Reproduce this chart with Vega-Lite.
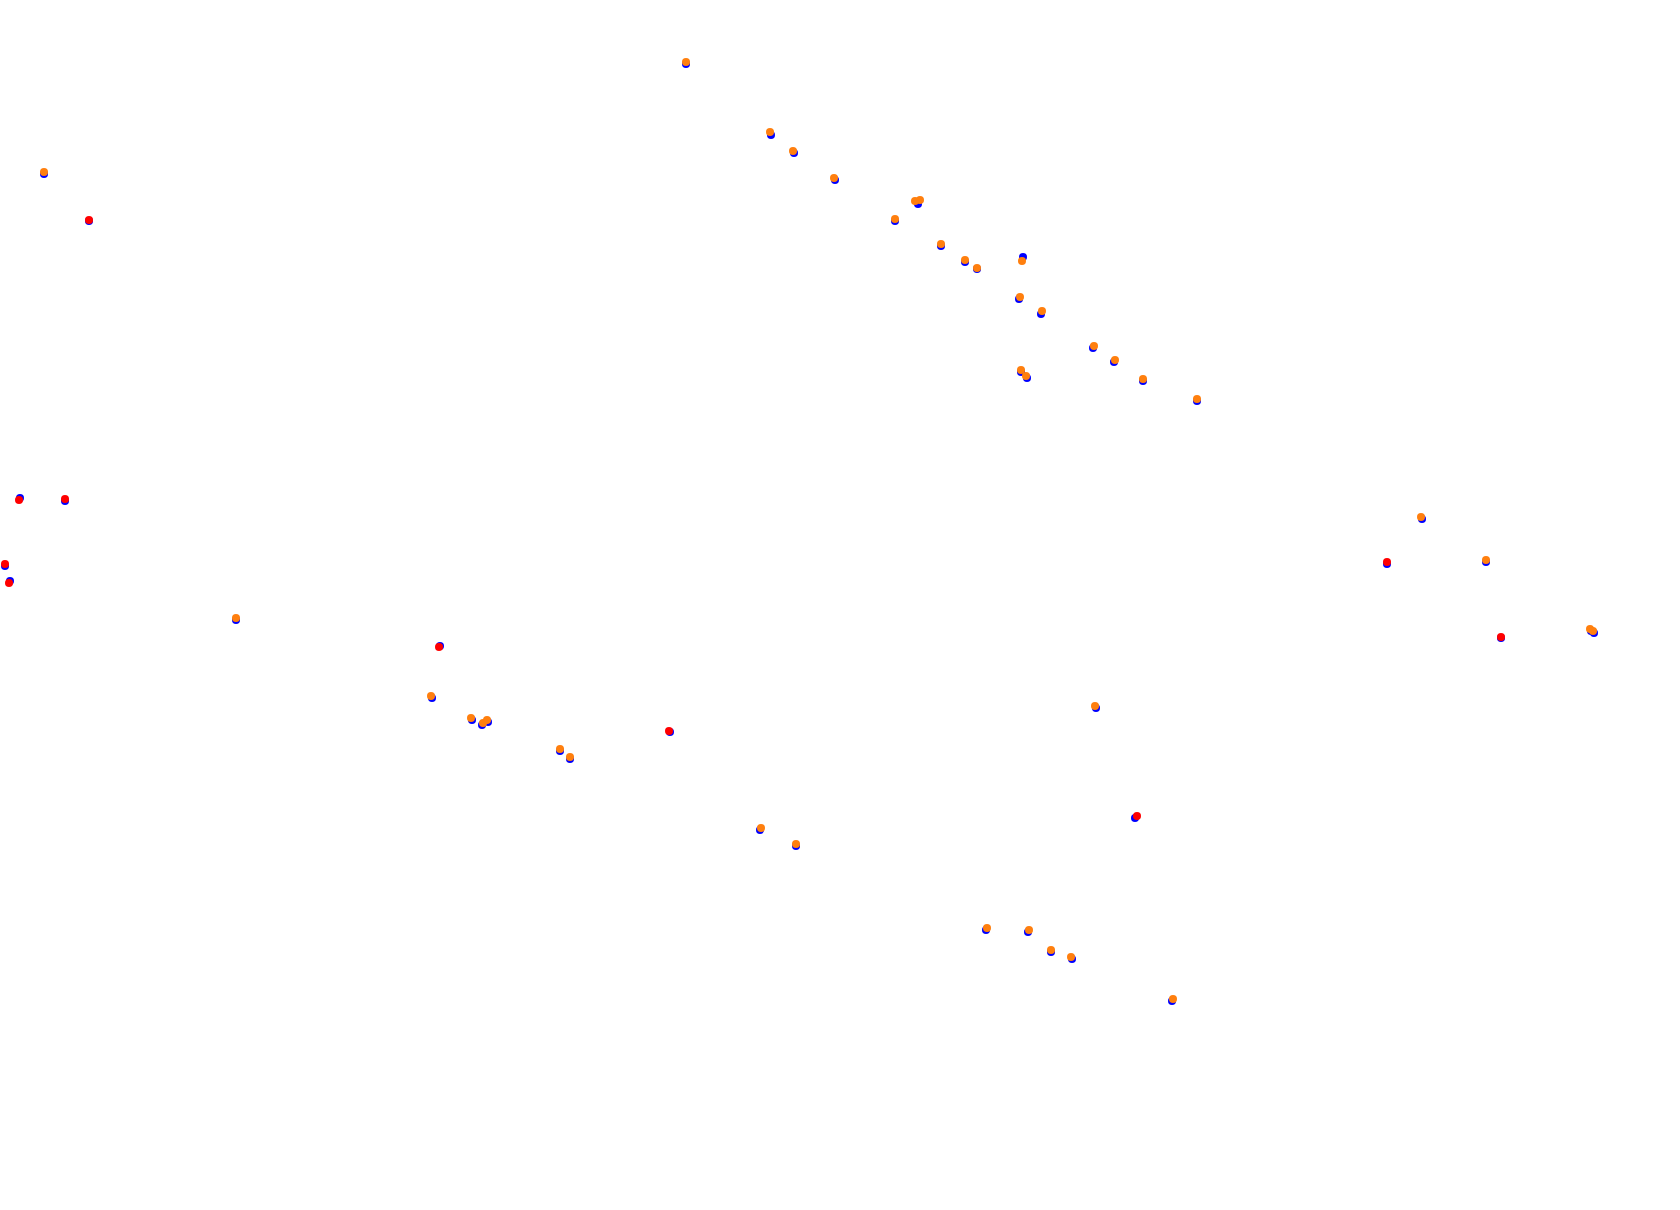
{
  "$schema": "https://vega.github.io/schema/vega-lite/v6.json",
  "autosize": {"type": "fit", "contains": "padding"},
  "width": 1680,
  "height": 1210,
  "padding": 0,
  "background": "white",
  "config": {"view": {"stroke": null}},
  "data": {"values": [
    {"x": 686, "y": 64, "s": "blue"},
    {"x": 771, "y": 135, "s": "blue"},
    {"x": 794, "y": 153, "s": "blue"},
    {"x": 835, "y": 180, "s": "blue"},
    {"x": 918, "y": 204, "s": "blue"},
    {"x": 895, "y": 221, "s": "blue"},
    {"x": 941, "y": 246, "s": "blue"},
    {"x": 965, "y": 262, "s": "blue"},
    {"x": 977, "y": 269, "s": "blue"},
    {"x": 1023, "y": 257, "s": "blue"},
    {"x": 1019, "y": 299, "s": "blue"},
    {"x": 1041, "y": 314, "s": "blue"},
    {"x": 1093, "y": 348, "s": "blue"},
    {"x": 1114, "y": 362, "s": "blue"},
    {"x": 1143, "y": 381, "s": "blue"},
    {"x": 1197, "y": 401, "s": "blue"},
    {"x": 1021, "y": 372, "s": "blue"},
    {"x": 1027, "y": 378, "s": "blue"},
    {"x": 44, "y": 174, "s": "blue"},
    {"x": 236, "y": 620, "s": "blue"},
    {"x": 432, "y": 698, "s": "blue"},
    {"x": 472, "y": 720, "s": "blue"},
    {"x": 482, "y": 725, "s": "blue"},
    {"x": 488, "y": 722, "s": "blue"},
    {"x": 560, "y": 751, "s": "blue"},
    {"x": 570, "y": 759, "s": "blue"},
    {"x": 760, "y": 830, "s": "blue"},
    {"x": 796, "y": 846, "s": "blue"},
    {"x": 986, "y": 930, "s": "blue"},
    {"x": 1028, "y": 932, "s": "blue"},
    {"x": 1051, "y": 952, "s": "blue"},
    {"x": 1072, "y": 959, "s": "blue"},
    {"x": 1172, "y": 1001, "s": "blue"},
    {"x": 1096, "y": 708, "s": "blue"},
    {"x": 1422, "y": 519, "s": "blue"},
    {"x": 1486, "y": 562, "s": "blue"},
    {"x": 1591, "y": 631, "s": "blue"},
    {"x": 1594, "y": 633, "s": "blue"},
    {"x": 89, "y": 221, "s": "blue"},
    {"x": 20, "y": 498, "s": "blue"},
    {"x": 65, "y": 501, "s": "blue"},
    {"x": 5, "y": 566, "s": "blue"},
    {"x": 10, "y": 581, "s": "blue"},
    {"x": 440, "y": 646, "s": "blue"},
    {"x": 670, "y": 732, "s": "blue"},
    {"x": 1135, "y": 818, "s": "blue"},
    {"x": 1387, "y": 564, "s": "blue"},
    {"x": 1501, "y": 638, "s": "blue"},
    {"x": 686, "y": 62, "s": "orange"},
    {"x": 770, "y": 132, "s": "orange"},
    {"x": 793, "y": 151, "s": "orange"},
    {"x": 834, "y": 178, "s": "orange"},
    {"x": 915, "y": 201, "s": "orange"},
    {"x": 920, "y": 200, "s": "orange"},
    {"x": 895, "y": 219, "s": "orange"},
    {"x": 941, "y": 244, "s": "orange"},
    {"x": 965, "y": 260, "s": "orange"},
    {"x": 977, "y": 268, "s": "orange"},
    {"x": 1022, "y": 261, "s": "orange"},
    {"x": 1020, "y": 297, "s": "orange"},
    {"x": 1042, "y": 311, "s": "orange"},
    {"x": 1094, "y": 346, "s": "orange"},
    {"x": 1115, "y": 360, "s": "orange"},
    {"x": 1143, "y": 379, "s": "orange"},
    {"x": 1197, "y": 399, "s": "orange"},
    {"x": 1021, "y": 370, "s": "orange"},
    {"x": 1026, "y": 376, "s": "orange"},
    {"x": 44, "y": 172, "s": "orange"},
    {"x": 236, "y": 618, "s": "orange"},
    {"x": 431, "y": 696, "s": "orange"},
    {"x": 471, "y": 718, "s": "orange"},
    {"x": 483, "y": 723, "s": "orange"},
    {"x": 487, "y": 720, "s": "orange"},
    {"x": 560, "y": 749, "s": "orange"},
    {"x": 570, "y": 757, "s": "orange"},
    {"x": 761, "y": 828, "s": "orange"},
    {"x": 796, "y": 844, "s": "orange"},
    {"x": 987, "y": 928, "s": "orange"},
    {"x": 1029, "y": 930, "s": "orange"},
    {"x": 1051, "y": 950, "s": "orange"},
    {"x": 1071, "y": 957, "s": "orange"},
    {"x": 1173, "y": 999, "s": "orange"},
    {"x": 1095, "y": 706, "s": "orange"},
    {"x": 1421, "y": 517, "s": "orange"},
    {"x": 1486, "y": 560, "s": "orange"},
    {"x": 1590, "y": 629, "s": "orange"},
    {"x": 1593, "y": 631, "s": "orange"},
    {"x": 89, "y": 220, "s": "red"},
    {"x": 19, "y": 500, "s": "red"},
    {"x": 65, "y": 499, "s": "red"},
    {"x": 5, "y": 564, "s": "red"},
    {"x": 9, "y": 583, "s": "red"},
    {"x": 439, "y": 647, "s": "red"},
    {"x": 669, "y": 731, "s": "red"},
    {"x": 1137, "y": 816, "s": "red"},
    {"x": 1387, "y": 562, "s": "red"},
    {"x": 1501, "y": 637, "s": "red"}
  ]},
  "mark": {"type": "point", "filled": true, "opacity": 1, "size": 64, "shape": "circle", "clip": false},
  "encoding": {
    "x": {"field": "x", "type": "quantitative", "scale": {"domain": [0, 1680], "nice": false, "zero": false}, "axis": null},
    "y": {"field": "y", "type": "quantitative", "scale": {"domain": [0, 1210], "nice": false, "zero": false, "reverse": true}, "axis": null},
    "color": {"field": "s", "type": "nominal", "scale": {"domain": ["blue", "orange", "red"], "range": ["#0000ff", "#ff7f0e", "#ff0000"]}, "legend": null}
  }
}
